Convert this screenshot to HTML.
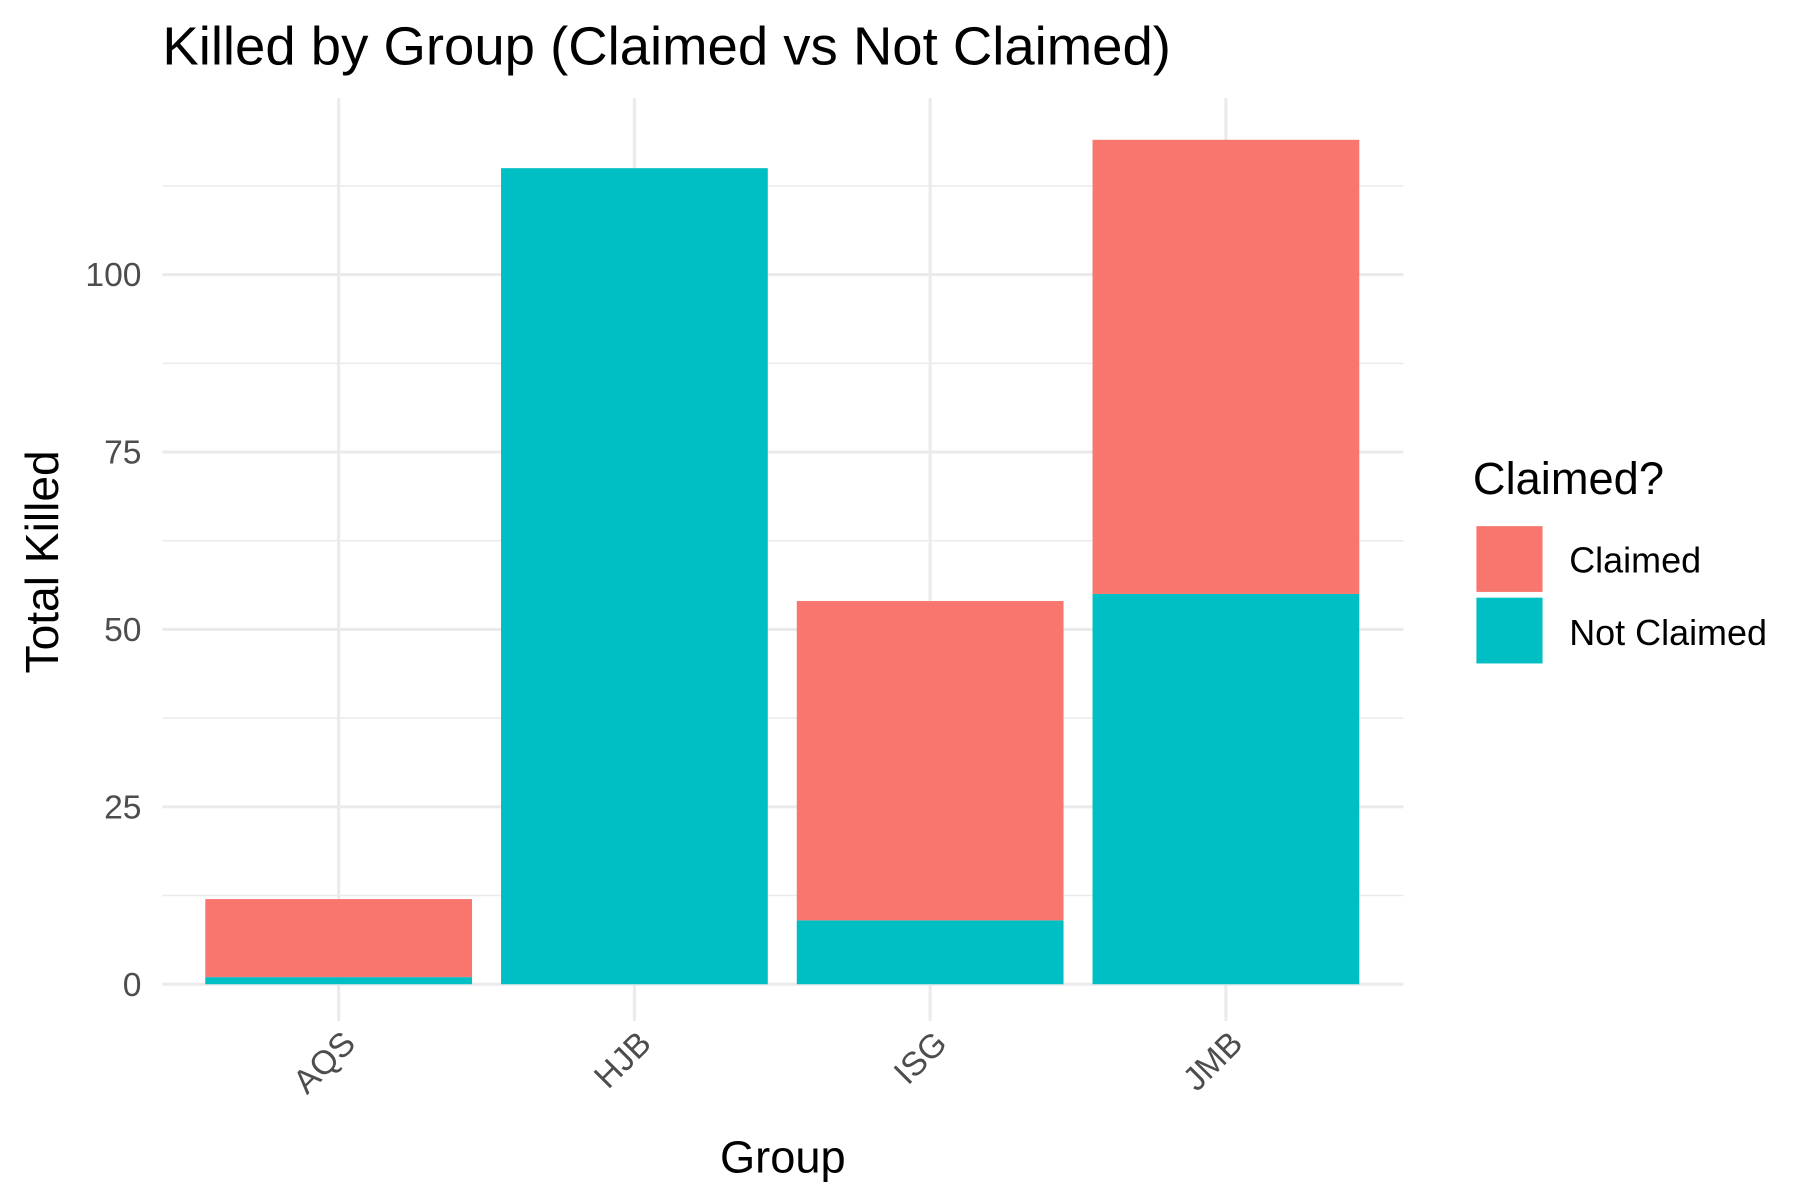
<!DOCTYPE html>
<html><head><meta charset="utf-8"><style>html,body{margin:0;padding:0;background:#fff}svg{display:block;font-family:"Liberation Sans",Arial,sans-serif}</style></head>
<body>
<svg id="chart" width="1800" height="1200" viewBox="0 0 1552 1040" preserveAspectRatio="none" xmlns="http://www.w3.org/2000/svg">
<rect width="1552" height="1040" fill="#fff"/>
<g id="grid"></g>
<g id="bars"></g>
<g id="axes"></g>
<text x="140" y="56" font-size="47" fill="#000">Killed by Group (Claimed vs Not Claimed)</text>
<text x="675" y="1016" font-size="39" text-anchor="middle" fill="#000">Group</text>
<text transform="translate(50,487) rotate(-90)" font-size="40" text-anchor="middle" fill="#000">Total Killed</text>
<g>
<text x="1270" y="428" font-size="39" fill="#000">Claimed?</text>
<rect x="1273" y="456" width="57" height="57" fill="#F8766D"/>
<text x="1353" y="496" font-size="31" fill="#000">Claimed</text>
<rect x="1273" y="518" width="57" height="57" fill="#00BFC4"/>
<text x="1353" y="559" font-size="31" fill="#000">Not Claimed</text>
</g>
</svg>
<script>
const categories = ["AQS","HJB","ISG","JMB"];
const notClaimed = [1,115,9,55];
const claimed = [11,0,45,64];
const yTicks = [0,25,50,75,100];
const yMinor = [12.5,37.5,62.5,87.5,112.5];

const NS="http://www.w3.org/2000/svg";
const plotL=140, plotR=1210, plotT=85, plotB=885;
const y0=853, pxPerUnit=6.15;
function yScale(v){return y0 - v*pxPerUnit;}
const bandStep=255, firstCenter=292, barW=230;
function xScale(i){return firstCenter + i*bandStep;}
function mk(tag, attrs, parent){const e=document.createElementNS(NS,tag);for(const k in attrs)e.setAttribute(k,attrs[k]);parent.appendChild(e);return e;}
const grid=document.getElementById('grid'), bars=document.getElementById('bars'), axes=document.getElementById('axes');
yMinor.forEach(v=>{
  const l=mk('line',{x1:plotL,x2:plotR,y1:yScale(v),y2:yScale(v),stroke:'#ebebeb','stroke-width':1.3},grid);
  
  
});
yTicks.forEach(v=>{
  const l=mk('line',{x1:plotL,x2:plotR,y1:yScale(v),y2:yScale(v),stroke:'#ebebeb','stroke-width':2.7},grid);
  
  
  const t=mk('text',{x:122,y:yScale(v)+10,'font-size':29,fill:'#4d4d4d','text-anchor':'end'},axes);
  t.textContent=v;
  
  
});
categories.forEach((c,i)=>{
  const x=xScale(i);
  const l=mk('line',{x1:x,x2:x,y1:plotT,y2:plotB,stroke:'#ebebeb','stroke-width':2.7},grid);
  
  
  const nc=mk('rect',{x:x-barW/2,y:yScale(notClaimed[i]),width:barW,height:yScale(0)-yScale(notClaimed[i]),fill:'#00BFC4'},bars);
  
  
  const top=notClaimed[i]+claimed[i];
  const cl=mk('rect',{x:x-barW/2,y:yScale(top),width:barW,height:yScale(notClaimed[i])-yScale(top),fill:'#F8766D'},bars);
  
  
  const t=mk('text',{transform:'translate('+(x+16)+',906) rotate(-45)','font-size':29,fill:'#4d4d4d','text-anchor':'end'},axes);
  t.textContent=c;
  
  
});
</script>
</body></html>
